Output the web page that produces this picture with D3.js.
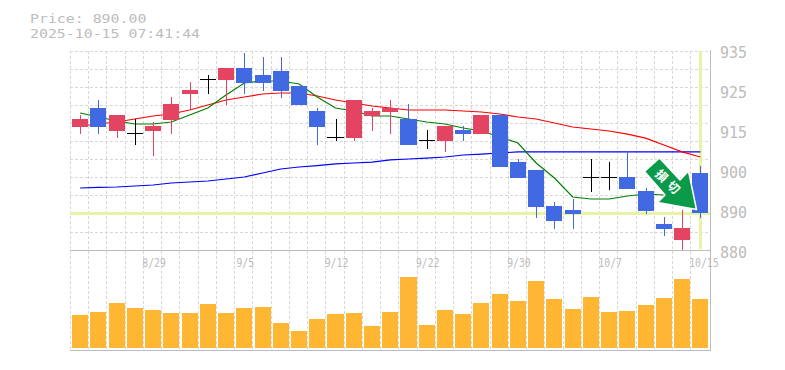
<!DOCTYPE html>
<html>
<head>
<meta charset="utf-8">
<script src="https://cdnjs.cloudflare.com/ajax/libs/d3/7.8.5/d3.min.js"></script>
<style>
html, body { margin: 0; padding: 0; background: #fff; }
svg { display: block; }
text { font-family: "DejaVu Sans Mono", monospace; fill: #bcbcbc; }
</style>
</head>
<body>
<svg id="chart" width="785" height="370"></svg>
<script>
var dates = ["8/25","8/26","8/27","8/28","8/29","9/1","9/2","9/3","9/4","9/5","9/8","9/9","9/10","9/11","9/12","9/16","9/17","9/18","9/19","9/22","9/24","9/25","9/26","9/29","9/30","10/1","10/2","10/3","10/6","10/7","10/8","10/9","10/10","10/14","10/15"];
var dateLabels = ["8/29","9/5","9/12","9/22","9/30","10/7","10/15"];
var opens = [916.5,921.25,915.5,914.9,915.5,918.25,924.75,928.5,928.25,931.25,929.5,930.5,926.75,920.5,913.5,913.1,919.25,920.25,918.5,912.4,912,915.75,914.6,919.5,904.1,901.1,891.75,890.75,899,899,899,895.5,887.25,883.25,900];
var highs = [919.5,923.25,919.5,918.5,917.75,924,927.75,929.5,931.25,935,934,934,926.75,921.25,918.5,923.25,921.25,923.25,922.25,915.75,916.75,916.75,919.5,919.5,905.25,901.1,892.75,893.5,905.25,904.1,908.25,896.25,889,890.75,902.6];
var lows = [914.6,914.6,913.1,910.5,906.4,914.6,920.75,924.75,922,924.75,925.5,923.75,922,910.5,912,912,915.5,914.6,910.5,909,907.9,912,914.6,902.25,898.75,888.75,886,886,895.25,895.75,896,889.75,884.25,880.5,888.75];
var closes = [918.5,916.5,919.5,914.9,916.75,922.25,925.75,928.5,931.25,927.5,927.5,925.5,922,916.5,913.5,923.25,920.5,921.25,910.5,912.4,916.75,914.6,919.5,902.25,898.75,891.5,888,889.75,899,899,896,890.5,886,886.25,890];
var maShort = [920,919,918,917.25,917.25,917.75,919.5,921.25,924.5,927.5,928,928,927.25,924,921.25,920.5,919.25,919.25,918.5,917.75,917.25,916.25,915.5,913.5,911.25,903.75,898.75,894,893.5,893.5,894.25,894.75,894.5,894.25,893.75];
var maMiddle = [916.75,917.25,917.75,918.5,919.25,919.75,920.75,922,923.25,924,924.75,925,925,924.25,923.25,922.5,921.75,921.25,920.75,920.75,920.75,920.5,920.25,919.75,919,918.5,917.5,916.5,916,915.5,914.6,913.1,910.5,907.9,906];
var maLong = [896.25,896.4,896.5,896.75,897,897.5,897.75,898,898.5,899,900,901.5,902.25,902.8,903.4,903.75,904.1,904.9,905.25,905.6,906,906.75,907.1,907.5,907.9,907.9,907.9,907.9,907.9,907.9,907.9,907.9,907.9,907.9,907.9];
var volumes = [33,36,45,40,38,35,35,44,35,40,41,25,17,29,34,35,22,36,71,23,38,34,45,54,47,67,49,39,51,36,37,43,50,69,49];
var priceTicks = [880,890,900,915,925,935];
var lastPrice = 890;
var gridPrices = [880.75,885.25,890,894.5,899,905.25,912,917.5,922,926.5,931,935.5];

var svg = d3.select("#chart");
var left = 71, right = 709.5, volTop = 250, volBottom = 348;

var x = d3.scaleBand().domain(d3.range(dates.length)).range([left, right]).paddingInner(0.12).paddingOuter(0.06);
// the printed labels are not evenly spaced, so the scale has a knee at each label
var y = d3.scaleLinear().domain(priceTicks).range([253, 213, 173, 133, 93, 53]);
var yVol = d3.scaleLinear().domain([0, 98]).range([volBottom, volTop]);
var cx = function(i) { return x(i) + x.bandwidth() / 2; };

// grid
var grid = svg.append("g").attr("stroke", "#d8d8d8").attr("stroke-dasharray", "3,2").attr("shape-rendering", "crispEdges");
grid.selectAll(".gx").data(d3.range(dates.length)).enter().append("line")
	.attr("class", "gx")
	.attr("x1", function(i) { return Math.round(left + i * x.step()) - 0.5; })
	.attr("x2", function(i) { return Math.round(left + i * x.step()) - 0.5; })
	.attr("y1", 51).attr("y2", 350);
grid.selectAll(".gy").data(gridPrices).enter().append("line")
	.attr("class", "gy")
	.attr("x1", left - 1).attr("x2", right)
	.attr("y1", function(d) { return Math.round(y(d)) + 0.5; })
	.attr("y2", function(d) { return Math.round(y(d)) + 0.5; });

// marker lines for the latest price and the latest day
svg.append("line").attr("x1", left - 1).attr("x2", right).attr("y1", y(lastPrice) + 0.5).attr("y2", y(lastPrice) + 0.5)
	.attr("stroke", "#e6f4a8").attr("stroke-width", 3).attr("shape-rendering", "crispEdges");
svg.append("line").attr("x1", 700.5).attr("x2", 700.5).attr("y1", 51).attr("y2", 249)
	.attr("stroke", "#e6f4a8").attr("stroke-width", 3).attr("shape-rendering", "crispEdges");

// moving averages
var line = d3.line().x(function(d, i) { return cx(i); }).y(function(d) { return y(d); });
[[maLong, "#0000ff"], [maMiddle, "#ff0000"], [maShort, "#008000"]].forEach(function(s) {
	svg.append("path").attr("d", line(s[0])).attr("fill", "none").attr("stroke", s[1])
		.attr("stroke-width", 1.2);
});

// candles
var color = function(i) {
	if (closes[i] > opens[i]) return "#e24462";
	if (closes[i] < opens[i]) return "#4169e1";
	return "#000000";
};
var candles = svg.append("g").attr("shape-rendering", "crispEdges");
candles.selectAll(".wick").data(d3.range(dates.length)).enter().append("line")
	.attr("class", "wick")
	.attr("x1", function(i) { return Math.round(cx(i)) + 0.5; })
	.attr("x2", function(i) { return Math.round(cx(i)) + 0.5; })
	.attr("y1", function(i) { return y(highs[i]); })
	.attr("y2", function(i) { return y(lows[i]); })
	.attr("stroke", color);
candles.selectAll(".body").data(d3.range(dates.length)).enter().append("rect")
	.attr("class", "body")
	.attr("x", function(i) { return x(i); })
	.attr("width", x.bandwidth())
	.attr("y", function(i) { return y(Math.max(opens[i], closes[i])); })
	.attr("height", function(i) { return Math.max(1, Math.abs(y(opens[i]) - y(closes[i]))); })
	.attr("fill", color);

// volume
svg.selectAll(".vol").data(volumes).enter().append("rect")
	.attr("class", "vol")
	.attr("x", function(d, i) { return x(i); })
	.attr("width", x.bandwidth())
	.attr("y", function(d) { return yVol(d); })
	.attr("height", function(d) { return volBottom - yVol(d); })
	.attr("fill", "#ffb733")
	.attr("shape-rendering", "crispEdges");

// frame
var frame = svg.append("g").attr("stroke", "#bcbcbc").attr("shape-rendering", "crispEdges");
frame.append("line").attr("x1", left - 1).attr("x2", 710).attr("y1", 250.5).attr("y2", 250.5);
frame.append("line").attr("x1", left - 1).attr("x2", 710).attr("y1", 350.5).attr("y2", 350.5);
frame.append("line").attr("x1", 710.5).attr("x2", 710.5).attr("y1", 50).attr("y2", 351).attr("stroke-width", 1.5);

// axes
var yAxis = d3.axisRight(y).tickValues(priceTicks).tickSize(0).tickPadding(0);
var gy = svg.append("g").attr("transform", "translate(720,0)").call(yAxis);
gy.select(".domain").remove();
gy.selectAll("text").style("font-size", "15px");

svg.selectAll(".dateLabel").data(dateLabels).enter().append("text")
	.attr("class", "dateLabel")
	.attr("x", function(d) { return d == "10/15" ? cx(dates.indexOf(d)) + 3.5 : cx(dates.indexOf(d)) + 1; })
	.attr("y", 267)
	.attr("text-anchor", "middle")
	.attr("textLength", function(d) { return d.length * 5.9; })
	.attr("lengthAdjust", "spacingAndGlyphs")
	.style("font-size", "12px")
	.text(function(d) { return d; });

// header
["Price: 890.00", "2025-10-15 07:41:44"].forEach(function(t, i) {
	svg.append("text").attr("x", 30).attr("y", 23 + i * 15)
		.attr("textLength", t.length * 8.95)
		.attr("lengthAdjust", "spacingAndGlyphs")
		.style("font-size", "13px")
		.text(t);
});

// arrow
svg.append("polygon")
	.attr("points", "659.5,158 644.5,171.5 665,195 657.5,202.5 696.5,209.5 688.5,171 680,180")
	.attr("fill", "#0b9a4a").attr("stroke", "#fff").attr("stroke-width", 1.5).attr("stroke-linejoin", "round");
[["損", 661.5, 176], ["切", 673.5, 187.5]].forEach(function(g) {
	svg.append("text")
		.attr("transform", "translate(" + g[1] + "," + g[2] + ") rotate(45)")
		.attr("text-anchor", "middle").attr("dy", "0.36em")
		.style("font-family", "'Noto Sans CJK JP'").style("font-size", "12px").style("font-weight", "bold").style("fill", "#fff")
		.text(g[0]);
});
</script>
</body>
</html>
